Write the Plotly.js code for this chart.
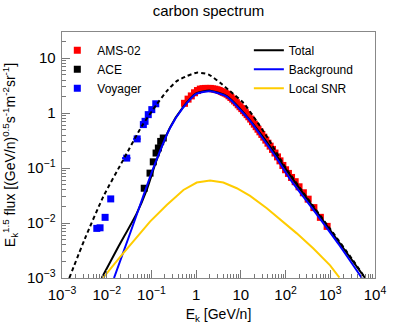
<!DOCTYPE html>
<html>
<head>
<meta charset="utf-8">
<script src="https://cdn.plot.ly/plotly-3.0.1.min.js"></script>
<style>
  html, body { margin: 0; padding: 0; background: #fff; }
  #chart { width: 417px; height: 327px; }
</style>
</head>
<body>
<div id="chart"></div>
<script>
// carbon spectrum, E^1.5 weighted flux vs kinetic energy per nucleon

// AMS-02 data
var amsE = [0.55, 0.66, 0.78, 0.92, 1.07, 1.24, 1.42, 1.62, 1.84, 2.08, 2.34, 2.62, 2.93, 3.27,
  3.63, 4.02, 4.45, 4.92, 5.43, 5.98, 6.58, 7.23, 7.94, 8.72, 9.57, 10.5, 11.5, 12.6, 13.8,
  15.1, 16.6, 18.2, 20.0, 22.0, 24.2, 26.7, 29.5, 32.6, 36.2, 40.4, 45.2, 51, 58, 66, 75, 87,
  100, 116, 136, 164, 200, 250, 320, 430, 600, 850];
var amsFlux = [1.51, 1.80, 2.06, 2.35, 2.58, 2.74, 2.79, 2.82, 2.82, 2.82, 2.77, 2.73, 2.67, 2.59,
  2.49, 2.39, 2.31, 2.21, 2.07, 1.93, 1.80, 1.67, 1.55, 1.42, 1.31, 1.21, 1.11, 1.02, 0.94,
  0.86, 0.78, 0.70, 0.63, 0.567, 0.51, 0.457, 0.41, 0.366, 0.323, 0.284, 0.251, 0.219, 0.188,
  0.16, 0.1355, 0.1117, 0.0933, 0.080, 0.0676, 0.0566, 0.0457, 0.0356, 0.0272, 0.0191, 0.0127, 0.0087];

// ACE data
var aceE = [0.069, 0.093, 0.11, 0.127, 0.143, 0.161, 0.184];
var aceFlux = [0.043, 0.081, 0.13, 0.188, 0.232, 0.306, 0.353];

// Voyager data
var voyE = [0.006, 0.0071, 0.0092, 0.0123, 0.028, 0.048, 0.066, 0.072, 0.085, 0.102, 0.125];
var voyFlux = [0.008, 0.0082, 0.0127, 0.0275, 0.152, 0.34, 0.62, 0.71, 0.94, 1.16, 1.48];
var voyErrE = [0, 0, 0, 0, 0.006, 0.009, 0, 0, 0, 0, 0];

// model curves
var totE = [0.00773, 0.0182, 0.0469, 0.0785, 0.1315, 0.261, 0.501, 1.0, 2.05, 4.84, 10, 25.1,
  63.1, 149, 991, 6012];
var totFlux = [0.001, 0.00369, 0.01503, 0.0401, 0.142, 0.55, 1.26, 2.29, 2.57, 2.04, 1.16, 0.468,
  0.168, 0.0611, 0.00745, 0.001];

var bkgE = [0.01455, 0.0316, 0.0631, 0.110, 0.261, 0.501, 1.0, 2.05, 4.84, 10, 16.1, 31.6, 63.1,
  126, 419, 1585, 5070];
var bkgFlux = [0.001, 0.00575, 0.0282, 0.1, 0.538, 1.23, 2.24, 2.51, 2.0, 1.12, 0.724, 0.339,
  0.151, 0.0631, 0.0174, 0.00398, 0.001];

var snrE = [0.0084, 0.02, 0.093, 0.22, 0.52, 1.03, 2.05, 4.06, 8.1, 16.1, 38, 89, 178, 419, 990, 1600];
var snrFlux = [0.00102, 0.00242, 0.0106, 0.0213, 0.040, 0.0546, 0.0593, 0.0546, 0.043, 0.0312,
  0.0186, 0.0106, 0.00649, 0.00344, 0.0017, 0.00102];

// unmodulated total (dashed)
var lisE = [0.001456, 0.00327, 0.0084, 0.0235, 0.0607, 0.131, 0.22, 0.368, 0.617, 1.03, 1.87,
  3.43, 5.73, 11.4, 22.7, 39.8, 100, 316, 1000, 3162, 6026];
var lisFlux = [0.001, 0.00525, 0.0303, 0.142, 0.577, 1.44, 2.51, 3.83, 4.73, 5.46, 5.08,
  3.58, 2.51, 1.54, 0.708, 0.355, 0.102, 0.0275, 0.00776, 0.00214, 0.001];

var font = 'Liberation Sans, Arial, Helvetica, sans-serif';

var data = [
  { x: amsE, y: amsFlux, mode: 'markers', type: 'scatter', name: 'AMS-02', legend: 'legend',
    marker: { symbol: 'square', size: 7, color: '#ff0000' } },
  { x: aceE, y: aceFlux, mode: 'markers', type: 'scatter', name: 'ACE', legend: 'legend',
    marker: { symbol: 'square', size: 7, color: '#000000' } },
  { x: voyE, y: voyFlux, mode: 'markers', type: 'scatter', name: 'Voyager', legend: 'legend',
    error_x: { type: 'data', array: voyErrE, color: '#0000ff', thickness: 2, width: 0 },
    marker: { symbol: 'square', size: 7, color: '#0000ff' } },
  { x: lisE, y: lisFlux, mode: 'lines', type: 'scatter', showlegend: false,
    line: { color: '#000000', width: 2, dash: '4px,3px', shape: 'spline', smoothing: 0.6 } },
  { x: totE, y: totFlux, mode: 'lines', type: 'scatter', name: 'Total', legend: 'legend2',
    line: { color: '#000000', width: 2, shape: 'spline', smoothing: 0.6 } },
  { x: bkgE, y: bkgFlux, mode: 'lines', type: 'scatter', name: 'Background', legend: 'legend2',
    line: { color: '#0000ff', width: 2, shape: 'spline', smoothing: 0.6 } },
  { x: snrE, y: snrFlux, mode: 'lines', type: 'scatter', name: 'Local SNR', legend: 'legend2',
    line: { color: '#ffcc00', width: 2 } }
];

var axisCommon = {
  type: 'log',
  dtick: 1,
  exponentformat: 'power',
  ticks: 'inside',
  ticklen: 8,
  tickcolor: '#777',
  showline: true,
  linecolor: '#888',
  linewidth: 1,
  mirror: true,
  showgrid: false,
  zeroline: false,
  tickfont: { family: font, size: 12, color: '#000' },
  minor: { ticks: 'inside', ticklen: 4, tickcolor: '#777', dtick: 'D1', showgrid: false }
};

var layout = {
  width: 417,
  height: 327,
  margin: { l: 62, r: 42, t: 32, b: 49 },
  paper_bgcolor: '#fff',
  plot_bgcolor: '#fff',
  font: { family: font, color: '#000' },
  title: { text: 'carbon spectrum', x: 0.5, xanchor: 'center', y: 0.966, yanchor: 'middle',
    font: { family: font, size: 15, color: '#000' } },
  xaxis: Object.assign({}, axisCommon, {
    range: [-3, 4],
    ticklabelstandoff: 4,
    title: { text: 'E<sub>k</sub> [GeV/n]', standoff: 6, font: { family: font, size: 14 } }
  }),
  yaxis: Object.assign({}, axisCommon, {
    range: [-3, 1.477],
    ticklabelstandoff: 3,
    title: { text: 'E<sub>k</sub><sup>1.5</sup> flux [(GeV/n)<sup>0.5</sup>s<sup>-1</sup>m<sup>-2</sup>sr<sup>-1</sup>]',
      standoff: 8, font: { family: font, size: 14 } }
  }),
  legend: { x: -0.015, y: 0.985, xanchor: 'left', yanchor: 'top', bgcolor: 'rgba(0,0,0,0)',
    font: { family: font, size: 12 }, tracegroupgap: 0 },
  legend2: { x: 0.597, y: 0.985, xanchor: 'left', yanchor: 'top', bgcolor: 'rgba(0,0,0,0)',
    font: { family: font, size: 12 }, tracegroupgap: 0 },
  showlegend: true
};

Plotly.newPlot('chart', data, layout, { displayModeBar: false, staticPlot: true });
</script>
</body>
</html>
